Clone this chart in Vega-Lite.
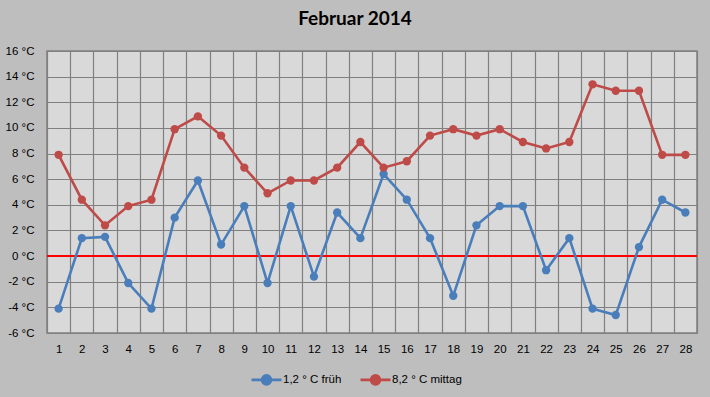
{
  "$schema": "https://vega.github.io/schema/vega-lite/v6.json",
  "autosize": "none",
  "width": 650,
  "height": 282,
  "padding": {"left": 47, "top": 51, "right": 13, "bottom": 64},
  "background": "#bebebe",
  "title": {"text": "Februar 2014", "font": "Lato", "fontSize": 19, "fontWeight": "bold", "color": "#000000", "anchor": "middle", "dx": -17, "offset": 16},
  "config": {
    "view": {"fill": "#d9d9d9", "stroke": "#808080", "strokeWidth": 1.5},
    "axis": {"labelFont": "Liberation Sans", "labelFontSize": 11.5, "labelColor": "#000000", "gridColor": "#808080", "gridOpacity": 1, "gridWidth": 1.2, "ticks": false, "domain": false, "labelOverlap": false},
    "axisY": {"labelOverlap": false},
    "axisQuantitative": {"labelOverlap": false},
    "legend": {"labelFont": "Liberation Sans", "labelFontSize": 11.5, "labelColor": "#000000"}
  },
  "data": {"values": [
    {"day": 1, "series": "1,2 ° C früh", "temp": -4.1},
    {"day": 2, "series": "1,2 ° C früh", "temp": 1.4},
    {"day": 3, "series": "1,2 ° C früh", "temp": 1.5},
    {"day": 4, "series": "1,2 ° C früh", "temp": -2.1},
    {"day": 5, "series": "1,2 ° C früh", "temp": -4.1},
    {"day": 6, "series": "1,2 ° C früh", "temp": 3.0},
    {"day": 7, "series": "1,2 ° C früh", "temp": 5.9},
    {"day": 8, "series": "1,2 ° C früh", "temp": 0.9},
    {"day": 9, "series": "1,2 ° C früh", "temp": 3.9},
    {"day": 10, "series": "1,2 ° C früh", "temp": -2.1},
    {"day": 11, "series": "1,2 ° C früh", "temp": 3.9},
    {"day": 12, "series": "1,2 ° C früh", "temp": -1.6},
    {"day": 13, "series": "1,2 ° C früh", "temp": 3.4},
    {"day": 14, "series": "1,2 ° C früh", "temp": 1.4},
    {"day": 15, "series": "1,2 ° C früh", "temp": 6.4},
    {"day": 16, "series": "1,2 ° C früh", "temp": 4.4},
    {"day": 17, "series": "1,2 ° C früh", "temp": 1.4},
    {"day": 18, "series": "1,2 ° C früh", "temp": -3.1},
    {"day": 19, "series": "1,2 ° C früh", "temp": 2.4},
    {"day": 20, "series": "1,2 ° C früh", "temp": 3.9},
    {"day": 21, "series": "1,2 ° C früh", "temp": 3.9},
    {"day": 22, "series": "1,2 ° C früh", "temp": -1.1},
    {"day": 23, "series": "1,2 ° C früh", "temp": 1.4},
    {"day": 24, "series": "1,2 ° C früh", "temp": -4.1},
    {"day": 25, "series": "1,2 ° C früh", "temp": -4.6},
    {"day": 26, "series": "1,2 ° C früh", "temp": 0.7},
    {"day": 27, "series": "1,2 ° C früh", "temp": 4.4},
    {"day": 28, "series": "1,2 ° C früh", "temp": 3.4},
    {"day": 1, "series": "8,2 ° C mittag", "temp": 7.9},
    {"day": 2, "series": "8,2 ° C mittag", "temp": 4.4},
    {"day": 3, "series": "8,2 ° C mittag", "temp": 2.4},
    {"day": 4, "series": "8,2 ° C mittag", "temp": 3.9},
    {"day": 5, "series": "8,2 ° C mittag", "temp": 4.4},
    {"day": 6, "series": "8,2 ° C mittag", "temp": 9.9},
    {"day": 7, "series": "8,2 ° C mittag", "temp": 10.9},
    {"day": 8, "series": "8,2 ° C mittag", "temp": 9.4},
    {"day": 9, "series": "8,2 ° C mittag", "temp": 6.9},
    {"day": 10, "series": "8,2 ° C mittag", "temp": 4.9},
    {"day": 11, "series": "8,2 ° C mittag", "temp": 5.9},
    {"day": 12, "series": "8,2 ° C mittag", "temp": 5.9},
    {"day": 13, "series": "8,2 ° C mittag", "temp": 6.9},
    {"day": 14, "series": "8,2 ° C mittag", "temp": 8.9},
    {"day": 15, "series": "8,2 ° C mittag", "temp": 6.9},
    {"day": 16, "series": "8,2 ° C mittag", "temp": 7.4},
    {"day": 17, "series": "8,2 ° C mittag", "temp": 9.4},
    {"day": 18, "series": "8,2 ° C mittag", "temp": 9.9},
    {"day": 19, "series": "8,2 ° C mittag", "temp": 9.4},
    {"day": 20, "series": "8,2 ° C mittag", "temp": 9.9},
    {"day": 21, "series": "8,2 ° C mittag", "temp": 8.9},
    {"day": 22, "series": "8,2 ° C mittag", "temp": 8.4},
    {"day": 23, "series": "8,2 ° C mittag", "temp": 8.9},
    {"day": 24, "series": "8,2 ° C mittag", "temp": 13.4},
    {"day": 25, "series": "8,2 ° C mittag", "temp": 12.9},
    {"day": 26, "series": "8,2 ° C mittag", "temp": 12.9},
    {"day": 27, "series": "8,2 ° C mittag", "temp": 7.9},
    {"day": 28, "series": "8,2 ° C mittag", "temp": 7.9}
  ]},
  "resolve": {"axis": {"x": "independent"}},
  "layer": [
    {
      "mark": {"type": "point", "opacity": 0},
      "encoding": {
        "x": {"field": "day", "type": "quantitative", "scale": {"domain": [0.5, 28.5], "nice": false, "zero": false},
              "axis": {"title": null, "orient": "bottom", "values": [0.5,1.5,2.5,3.5,4.5,5.5,6.5,7.5,8.5,9.5,10.5,11.5,12.5,13.5,14.5,15.5,16.5,17.5,18.5,19.5,20.5,21.5,22.5,23.5,24.5,25.5,26.5,27.5,28.5], "labels": false, "grid": true}},
        "y": {"field": "temp", "type": "quantitative", "scale": {"domain": [-6, 16], "nice": false},
              "axis": {"title": null, "values": [-6,-4,-2,0,2,4,6,8,10,12,14,16], "labelExpr": "datum.value + ' °C'", "labelPadding": 13, "labelOverlap": false, "labelBound": false, "labelSeparation": 0, "grid": true}}
      }
    },
    {
      "mark": {"type": "rule", "color": "#ff0000", "strokeWidth": 1.3},
      "encoding": {"y": {"datum": 0, "type": "quantitative",
              "axis": {"title": null, "values": [-6,-4,-2,0,2,4,6,8,10,12,14,16], "labelExpr": "datum.value + ' °C'", "labelPadding": 13, "labelOverlap": false, "labelBound": false, "labelSeparation": 0, "grid": true}}}
    },
    {
      "mark": {"type": "line", "strokeWidth": 2.6},
      "encoding": {
        "x": {"field": "day", "type": "quantitative",
              "axis": {"title": null, "orient": "bottom", "values": [1,2,3,4,5,6,7,8,9,10,11,12,13,14,15,16,17,18,19,20,21,22,23,24,25,26,27,28], "labelPadding": 10, "grid": false}},
        "y": {"field": "temp", "type": "quantitative",
              "axis": {"title": null, "values": [-6,-4,-2,0,2,4,6,8,10,12,14,16], "labelExpr": "datum.value + ' °C'", "labelPadding": 13, "labelOverlap": false, "labelBound": false, "labelSeparation": 0, "grid": true}},
        "color": {"field": "series", "type": "nominal", "scale": {"range": ["#4a7ebb", "#be4b48"]},
                  "legend": {"title": null, "orient": "none", "direction": "horizontal", "legendX": 203, "legendY": 312,
                             "symbolType": "M-1,0H1M-0.3,0A0.3,0.3 0 1,0 0.3,0A0.3,0.3 0 1,0 -0.3,0Z",
                             "symbolSize": 900, "symbolStrokeWidth": 2.6, "labelOffset": 0, "columnPadding": 13,
                             "encode": {"symbols": {"update": {"stroke": {"scale": "color", "field": "value"}, "fill": {"scale": "color", "field": "value"}, "opacity": {"value": 1}}}}}},
        "detail": {"field": "series"}
      }
    },
    {
      "mark": {"type": "circle", "size": 70, "opacity": 1},
      "encoding": {
        "x": {"field": "day", "type": "quantitative", "axis": null},
        "y": {"field": "temp", "type": "quantitative",
              "axis": {"title": null, "values": [-6,-4,-2,0,2,4,6,8,10,12,14,16], "labelExpr": "datum.value + ' °C'", "labelPadding": 13, "labelOverlap": false, "labelBound": false, "labelSeparation": 0, "grid": true}},
        "color": {"field": "series", "type": "nominal",
                  "legend": {"title": null, "orient": "none", "direction": "horizontal", "legendX": 203, "legendY": 312,
                             "symbolType": "M-1,0H1M-0.3,0A0.3,0.3 0 1,0 0.3,0A0.3,0.3 0 1,0 -0.3,0Z",
                             "symbolSize": 900, "symbolStrokeWidth": 2.6, "labelOffset": 0, "columnPadding": 13,
                             "encode": {"symbols": {"update": {"stroke": {"scale": "color", "field": "value"}, "fill": {"scale": "color", "field": "value"}, "opacity": {"value": 1}}}}}}
      }
    }
  ]
}
